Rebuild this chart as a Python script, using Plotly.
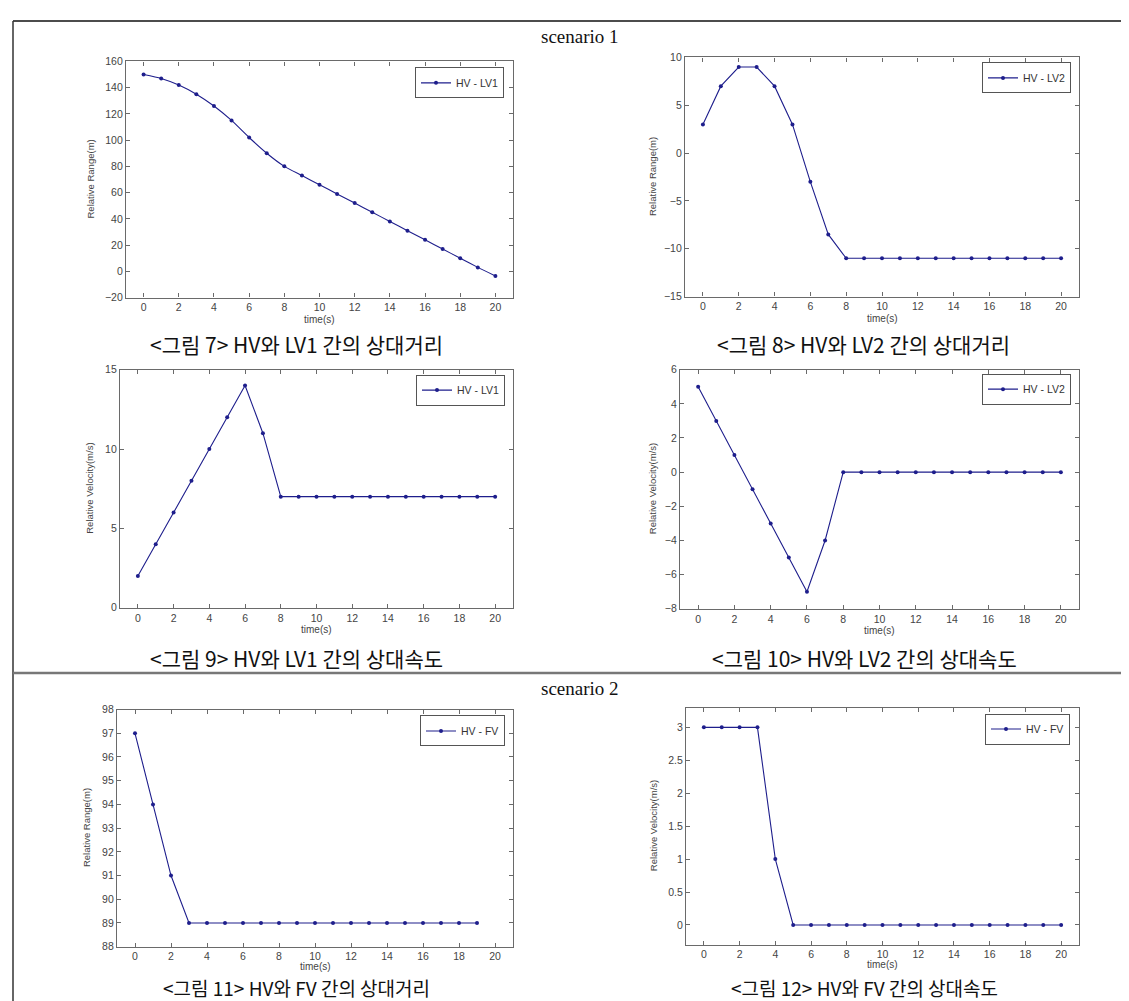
import plotly.graph_objects as go

W, H = 1129, 1001

# ---------------- data ----------------
time_21 = [0, 1, 2, 3, 4, 5, 6, 7, 8, 9, 10, 11, 12, 13, 14, 15, 16, 17, 18, 19, 20]
time_20 = [0, 1, 2, 3, 4, 5, 6, 7, 8, 9, 10, 11, 12, 13, 14, 15, 16, 17, 18, 19]

range_hv_lv1 = [150, 147, 142, 135, 126, 115, 102, 90, 80, 73, 66, 59, 52, 45, 38, 31, 24, 17, 10, 3, -3.5]
range_hv_lv2 = [3, 7, 9, 9, 7, 3, -3, -8.5, -11, -11, -11, -11, -11, -11, -11, -11, -11, -11, -11, -11, -11]
vel_hv_lv1 = [2, 4, 6, 8, 10, 12, 14, 11, 7, 7, 7, 7, 7, 7, 7, 7, 7, 7, 7, 7, 7]
vel_hv_lv2 = [5, 3, 1, -1, -3, -5, -7, -4, 0, 0, 0, 0, 0, 0, 0, 0, 0, 0, 0, 0, 0]
range_hv_fv = [97, 94, 91, 89, 89, 89, 89, 89, 89, 89, 89, 89, 89, 89, 89, 89, 89, 89, 89, 89]
vel_hv_fv = [3, 3, 3, 3, 1, 0, 0, 0, 0, 0, 0, 0, 0, 0, 0, 0, 0, 0, 0, 0, 0]

series_names = ["HV - LV1", "HV - LV2", "HV - LV1", "HV - LV2", "HV - FV", "HV - FV"]
y_titles = ["Relative Range(m)", "Relative Range(m)", "Relative Velocity(m/s)",
            "Relative Velocity(m/s)", "Relative Range(m)", "Relative Velocity(m/s)"]
x_title = "time(s)"
x_ticks = [0, 2, 4, 6, 8, 10, 12, 14, 16, 18, 20]

y_ticks_1 = [-20, 0, 20, 40, 60, 80, 100, 120, 140, 160]
y_ticks_2 = [-15, -10, -5, 0, 5, 10]
y_ticks_3 = [0, 5, 10, 15]
y_ticks_4 = [-8, -6, -4, -2, 0, 2, 4, 6]
y_ticks_5 = [88, 89, 90, 91, 92, 93, 94, 95, 96, 97, 98]
y_ticks_6 = [0, 0.5, 1, 1.5, 2, 2.5, 3]

captions = [
    "<그림 7> HV와 LV1 간의 상대거리",
    "<그림 8> HV와 LV2 간의 상대거리",
    "<그림 9> HV와 LV1 간의 상대속도",
    "<그림 10> HV와 LV2 간의 상대속도",
    "<그림 11> HV와 FV 간의 상대거리",
    "<그림 12> HV와 FV 간의 상대속도",
]
scenario_labels = ["scenario 1", "scenario 2"]

# ---------------- layout geometry (pixels) ----------------
panels = [
    dict(x=time_21, y=range_hv_lv1, box=(118, 505, 48, 287), yr=[-20, 160], yt=y_ticks_1,
         leg=(496, 54), ytx=82, xty=309, cap=(288, 334, 21), shape="spline"),
    dict(x=time_21, y=range_hv_lv2, box=(677, 1071, 44, 286), yr=[-15, 10], yt=y_ticks_2,
         leg=(1063, 49), ytx=644, xty=308, cap=(855, 334, 21), shape="linear"),
    dict(x=time_21, y=vel_hv_lv1, box=(112, 505, 360, 601), yr=[0, 15], yt=y_ticks_3,
         leg=(497, 365), ytx=82, xty=623, cap=(288, 652, 21), shape="linear"),
    dict(x=time_21, y=vel_hv_lv2, box=(672, 1071, 360, 602), yr=[-8, 6], yt=y_ticks_4,
         leg=(1063, 364), ytx=644, xty=624, cap=(856, 652, 21), shape="linear"),
    dict(x=time_20, y=range_hv_fv, box=(109, 505, 704, 944), yr=[88, 98], yt=y_ticks_5,
         leg=(497, 710), ytx=78, xty=964, cap=(288, 985, 19), shape="linear"),
    dict(x=time_21, y=vel_hv_fv, box=(678, 1071, 702, 942), yr=[-0.3, 3.3], yt=y_ticks_6,
         leg=(1062, 708), ytx=645, xty=962, cap=(856, 985, 19), shape="linear"),
]

LINE_COLOR = "#1e1e8c"
AXIS_COLOR = "#6a6a6a"
TICK_FONT = dict(family="Liberation Sans, Arial, sans-serif", size=10.5, color="#444444")


def px_x(v):
    return v / W


def px_y(v):
    return 1 - v / H


fig = go.Figure()
layout = dict(
    width=W, height=H,
    margin=dict(l=0, r=0, t=0, b=0),
    paper_bgcolor="white", plot_bgcolor="white",
    showlegend=True,
)
annotations = []

for i, p in enumerate(panels):
    n = i + 1
    sfx = "" if n == 1 else str(n)
    l, r, t, b = p["box"]
    leg_key = "legend" if n == 1 else f"legend{n}"
    line_kw = dict(color=LINE_COLOR, width=1.1, shape=p["shape"])
    if p["shape"] == "spline":
        line_kw["smoothing"] = 0.6
    fig.add_trace(go.Scatter(
        x=p["x"], y=p["y"], mode="lines+markers", name=series_names[i],
        line=line_kw, marker=dict(color=LINE_COLOR, size=4),
        xaxis="x" + sfx, yaxis="y" + sfx, legend=leg_key,
    ))
    axis_common = dict(
        showline=True, linecolor=AXIS_COLOR, linewidth=1.3, mirror="ticks",
        ticks="inside", ticklen=4, tickwidth=1, tickcolor=AXIS_COLOR,
        showgrid=False, zeroline=False, tickfont=TICK_FONT, fixedrange=True,
    )
    layout["xaxis" + sfx] = dict(
        axis_common, domain=[px_x(l), px_x(r)], anchor="y" + sfx,
        range=[-1, 21], tickvals=x_ticks,
    )
    layout["yaxis" + sfx] = dict(
        axis_common, domain=[px_y(b), px_y(t)], anchor="x" + sfx,
        range=p["yr"], tickvals=p["yt"],
    )
    lx, ly = p["leg"]
    layout[leg_key] = dict(
        x=px_x(lx), y=px_y(ly), xanchor="right", yanchor="top",
        xref="paper", yref="paper",
        bgcolor="white", bordercolor="#555555", borderwidth=1,
        font=dict(family="Liberation Sans, Arial, sans-serif", size=10.5, color="#333333"),
        itemwidth=30, tracegroupgap=0,
    )
    # axis titles
    annotations.append(dict(
        text=y_titles[i], textangle=-90, x=px_x(p["ytx"]), y=px_y((t + b) / 2),
        xref="paper", yref="paper", xanchor="center", yanchor="middle", showarrow=False,
        font=dict(family="Liberation Sans, Arial, sans-serif", size=9.5, color="#444444"),
    ))
    annotations.append(dict(
        text=x_title, x=px_x((l + r) / 2), y=px_y(p["xty"]),
        xref="paper", yref="paper", xanchor="center", yanchor="middle", showarrow=False,
        font=dict(family="Liberation Sans, Arial, sans-serif", size=10, color="#444444"),
    ))
    cx, cy, cs = p["cap"]
    annotations.append(dict(
        text=captions[i], x=px_x(cx), y=px_y(cy),
        xref="paper", yref="paper", xanchor="center", yanchor="middle", showarrow=False,
        font=dict(family="Noto Sans CJK KR, sans-serif", size=cs, color="#111111"),
    ))

for label, yy in zip(scenario_labels, [23, 683]):
    annotations.append(dict(
        text=label, x=px_x(572), y=px_y(yy),
        xref="paper", yref="paper", xanchor="center", yanchor="middle", showarrow=False,
        font=dict(family="Liberation Serif, Times New Roman, serif", size=19, color="#111111"),
    ))

shapes = [
    dict(type="line", xref="paper", yref="paper", x0=px_x(5), x1=1, y0=px_y(7), y1=px_y(7),
         line=dict(color="#111111", width=1.5)),
    dict(type="line", xref="paper", yref="paper", x0=px_x(5), x1=px_x(5), y0=px_y(7), y1=0,
         line=dict(color="#333333", width=1.5)),
    dict(type="line", xref="paper", yref="paper", x0=px_x(1127.5), x1=px_x(1127.5), y0=px_y(7), y1=0,
         line=dict(color="#333333", width=1.5)),
    dict(type="line", xref="paper", yref="paper", x0=px_x(5), x1=1, y0=px_y(667), y1=px_y(667),
         line=dict(color="#777777", width=2.5)),
]

layout["annotations"] = annotations
layout["shapes"] = shapes
fig.update_layout(**layout)

fig.write_html("out.html")
